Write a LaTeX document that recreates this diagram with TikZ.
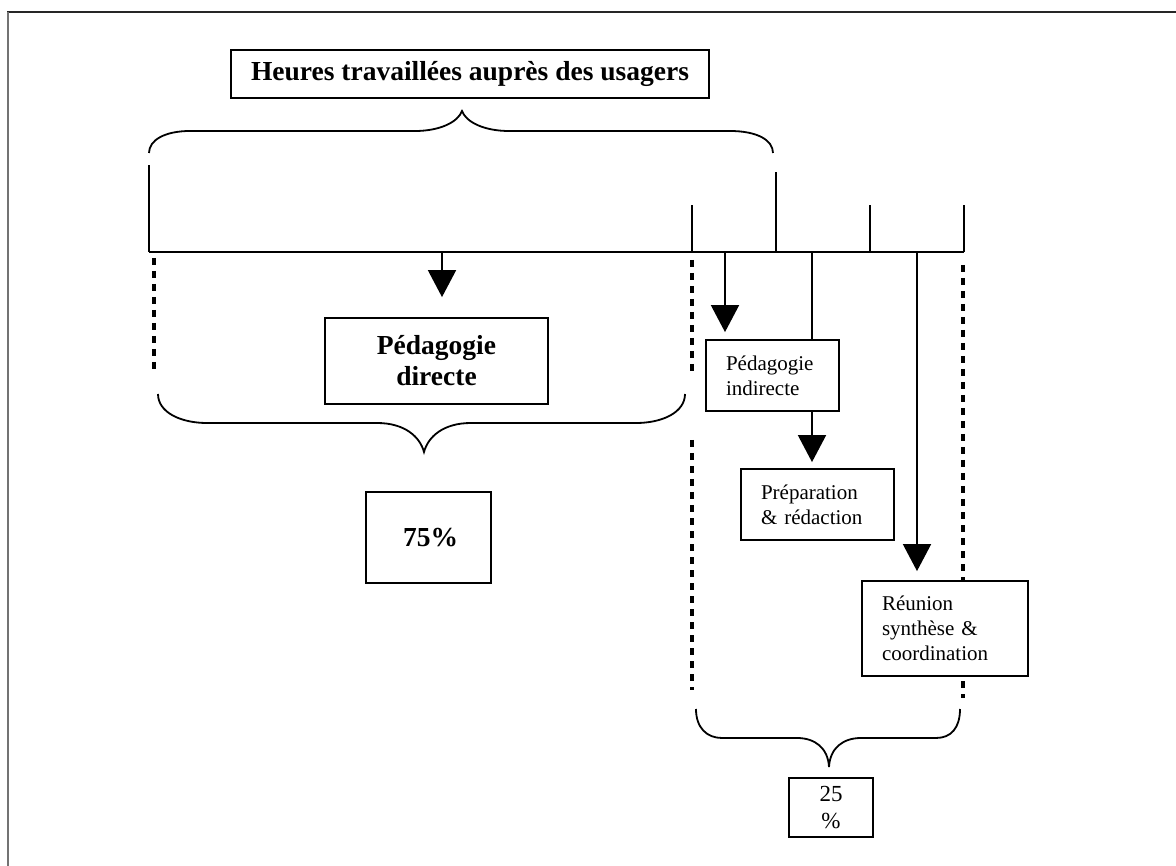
\documentclass[tikz,border=0pt]{standalone}
\usepackage{fontspec}
\setmainfont{Liberation Serif}
\usetikzlibrary{arrows.meta}
\begin{document}
\begin{tikzpicture}[
        x=1pt, y=-1pt,
        trait/.style={line width=1.8pt},
        pointille/.style={line width=4pt, dash pattern=on 7pt off 6pt},
        fleche/.style={trait, -{Triangle[length=27pt, width=28pt]}},
        boite/.style={draw, line width=1.8pt, fill=white, inner sep=0pt},
        gras/.style={boite, font=\bfseries\fontsize{27.5}{31}\selectfont, align=center},
        texte/.style={boite, font=\fontsize{21}{25}\selectfont, align=left, inner xsep=20pt},
        pourcent/.style={boite, font=\fontsize{23}{27}\selectfont, align=center},
    ]
    \useasboundingbox (0,0) rectangle (1176,866);
    \draw[line width=1.5pt, black!85] (7,12) -- (1176,12);
    \draw[line width=1.5pt, black!55] (8,12) -- (8,866);

    \coordinate (a1) at (442,252);
    \coordinate (a2) at (725,252);
    \coordinate (a3) at (812,252);
    \coordinate (a4) at (917,252);

    \draw[pointille] (154,258) -- (154,373);
    \draw[pointille] (692,260) -- (692,373);
    \draw[pointille] (692,440) -- (692,690);
    \draw[pointille] (963,265) -- (963,698);

    \draw[trait] (149,252) -- (964,252);
    \foreach \x/\h in {149/165, 692/205, 776/172, 870/205, 964/205}
        \draw[trait] (\x,252) -- (\x,\h);

    \draw[trait] (149,153) .. controls (149,140) and (165,131) .. (190,131) -- (415,131)
        .. controls (440,131) and (458,122) .. (462,111)
        .. controls (466,122) and (484,131) .. (509,131) -- (730,131)
        .. controls (757,131) and (773,140) .. (773,153);
    \draw[trait] (158,394) .. controls (158,412) and (180,423) .. (207,423) -- (377,423)
        .. controls (405,423) and (420,437) .. (424,452)
        .. controls (428,437) and (443,423) .. (471,423) -- (636,423)
        .. controls (663,423) and (685,412) .. (685,394);
    \draw[trait] (696,709) .. controls (696,728) and (707,738) .. (722,738) -- (797,738)
        .. controls (815,738) and (828,748) .. (829,767)
        .. controls (830,748) and (843,738) .. (861,738) -- (936,738)
        .. controls (951,738) and (960,728) .. (960,709);

    \node[gras, minimum width=478pt, minimum height=48pt] (titre) at (470,74) {Heures travaillées auprès des usagers};
    \node[gras, minimum width=223pt, minimum height=86pt] (directe) at (436.5,361) {Pédagogie\\directe};
    \node[gras, minimum width=125pt, minimum height=91pt] (p75) at (428.5,537.5) {\hspace{4pt}75\%};
    \node[texte, text width=93pt, minimum height=71pt] (indirecte) at (772.5,375.5) {Pédagogie\\indirecte};
    \node[texte, text width=113pt, minimum height=71pt] (prep) at (817.5,504.5) {Préparation\\\& rédaction};
    \node[texte, text width=126pt, minimum height=95pt] (reunion) at (945,628.5) {Réunion\\synthèse \&\\coordination};
    \node[pourcent, minimum width=84pt, minimum height=59pt] (p25) at (831,807.5) {25\\\%};

    \draw[fleche, shorten >=20pt] (a1) -- (a1 |- directe.north);
    \draw[fleche, shorten >=7pt] (a2) -- (a2 |- indirecte.north);
    \draw[trait] (a3) -- (a3 |- indirecte.north);
    \draw[fleche, shorten >=6pt] (a3 |- indirecte.south) -- (a3 |- prep.north);
    \draw[fleche, shorten >=9pt] (a4) -- (a4 |- reunion.north);
\end{tikzpicture}
\end{document}
